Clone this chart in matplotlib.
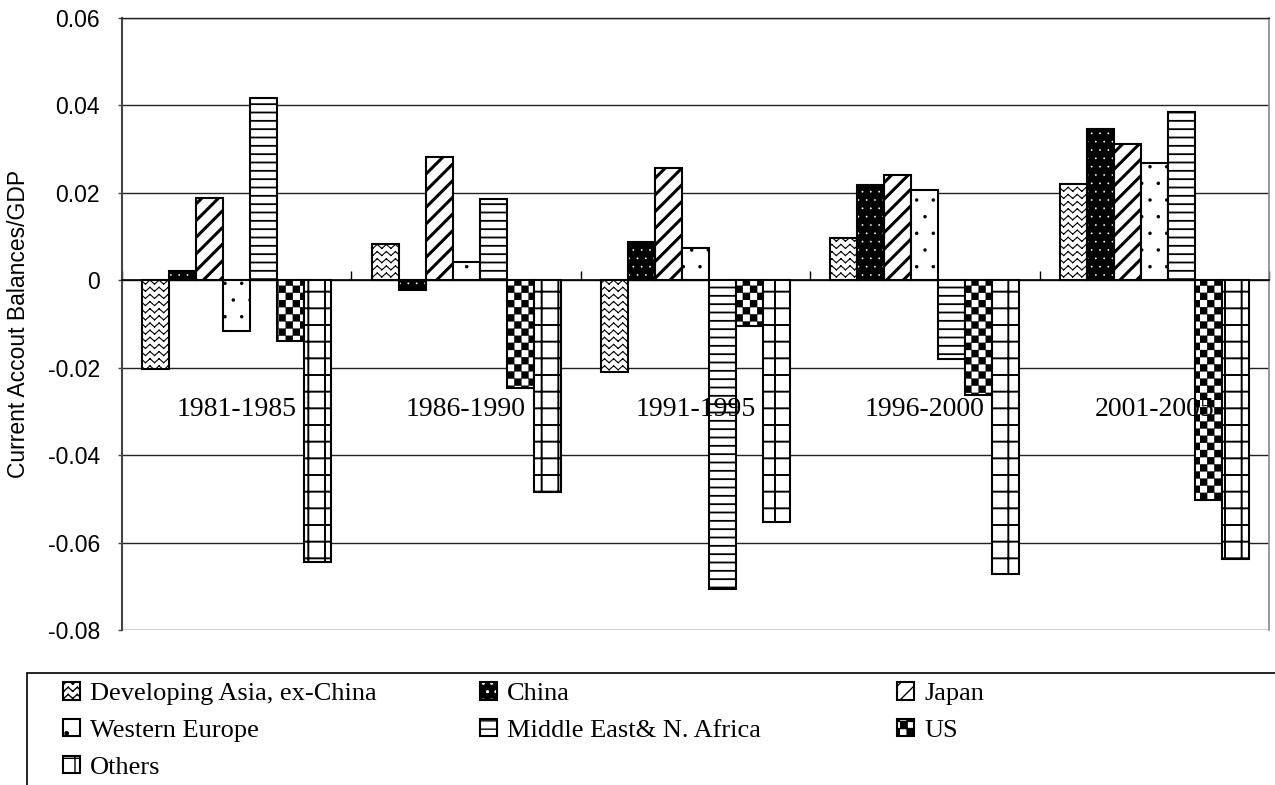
import warnings
warnings.filterwarnings('ignore')
import numpy as np
import matplotlib
matplotlib.use('Agg')
import matplotlib.pyplot as plt
import matplotlib.hatch as mhatch
from matplotlib.path import Path
from matplotlib.patches import Rectangle

# ---------------- data ----------------
periods = ['1981-1985', '1986-1990', '1991-1995', '1996-2000', '2001-2005']
series_names = ['Developing Asia, ex-China', 'China', 'Japan', 'Western Europe',
                'Middle East& N. Africa', 'US', 'Others']
dev_asia = [-0.0204, 0.0082, -0.0209, 0.0096, 0.0220]
china = [0.0022, -0.0023, 0.0088, 0.0218, 0.0346]
japan = [0.0189, 0.0281, 0.0256, 0.0240, 0.0312]
w_europe = [-0.0115, 0.0042, 0.0075, 0.0206, 0.0269]
me_na = [0.0417, 0.0186, -0.0707, -0.0179, 0.0384]
us = [-0.0139, -0.0246, -0.0105, -0.0263, -0.0503]
others = [-0.0644, -0.0485, -0.0552, -0.0672, -0.0637]
y_ticks = [-0.08, -0.06, -0.04, -0.02, 0, 0.02, 0.04, 0.06]
y_tick_labels = ['-0.08', '-0.06', '-0.04', '-0.02', '0', '0.02', '0.04', '0.06']
y_label = 'Current Accout Balances/GDP'

series_values = [dev_asia, china, japan, w_europe, me_na, us, others]


# ---------------- custom hatches ----------------
class ZigzagHatch(mhatch.HatchPatternBase):
    def __init__(self, hatch, density):
        n = hatch.count('z')
        self.rows = 14 * n
        self.cols = 11 * n
        self.num_vertices = self.rows * self.cols * 4

    def set_vertices_and_codes(self, vertices, codes):
        ys = (np.arange(self.rows) + 0.5) / self.rows
        amp = 0.28 / self.rows
        p = 1.0 / self.cols
        xs = np.arange(self.cols) * p
        Y, X = np.meshgrid(ys, xs, indexing='ij')
        X = X.ravel()
        Y = Y.ravel()
        v = vertices.reshape(-1, 4, 2)
        v[:, 0, 0] = X
        v[:, 0, 1] = Y - amp
        v[:, 1, 0] = X + p / 2
        v[:, 1, 1] = Y + amp
        v[:, 2, 0] = X + p / 2
        v[:, 2, 1] = Y + amp
        v[:, 3, 0] = X + p
        v[:, 3, 1] = Y - amp
        c = codes.reshape(-1, 4)
        c[:, 0] = Path.MOVETO
        c[:, 1] = Path.LINETO
        c[:, 2] = Path.MOVETO
        c[:, 3] = Path.LINETO


class CheckerHatch(mhatch.HatchPatternBase):
    def __init__(self, hatch, density):
        n = hatch.count('c')
        self.cells = 14 * n
        self.num_vertices = (self.cells * self.cells // 2) * 5

    def set_vertices_and_codes(self, vertices, codes):
        s = 1.0 / self.cells
        ii, jj = np.meshgrid(np.arange(self.cells), np.arange(self.cells), indexing='ij')
        mask = (ii + jj) % 2 == 0
        x0 = jj[mask] * s
        y0 = ii[mask] * s
        v = vertices.reshape(-1, 5, 2)
        v[:, 0, 0], v[:, 0, 1] = x0, y0
        v[:, 1, 0], v[:, 1, 1] = x0 + s, y0
        v[:, 2, 0], v[:, 2, 1] = x0 + s, y0 + s
        v[:, 3, 0], v[:, 3, 1] = x0, y0 + s
        v[:, 4, 0], v[:, 4, 1] = x0, y0
        c = codes.reshape(-1, 5)
        c[:, 0] = Path.MOVETO
        c[:, 1:4] = Path.LINETO
        c[:, 4] = Path.CLOSEPOLY


mhatch._hatch_types.extend([ZigzagHatch, CheckerHatch])

# ---------------- styles ----------------
plt.rcParams['font.family'] = ['Liberation Sans', 'DejaVu Sans']
serif = ['Liberation Serif', 'DejaVu Serif']

styles = [
    dict(facecolor='white', edgecolor='black', hatch='z', hlw=0.8),
    dict(facecolor='black', edgecolor='white', hatch='..', hlw=0.1),
    dict(facecolor='white', edgecolor='black', hatch='//', hlw=2.2),
    dict(facecolor='white', edgecolor='black', hatch='.', hlw=0.1),
    dict(facecolor='white', edgecolor='black', hatch='--', hlw=1.3),
    dict(facecolor='white', edgecolor='black', hatch='c', hlw=0.2),
    dict(facecolor='white', edgecolor='black', hatch='+', hlw=1.4),
]

fig = plt.figure(figsize=(12.75, 7.85), dpi=100)
W, H = 1275.0, 785.0
ax = fig.add_axes([122 / W, 1 - 630 / H, (1269 - 122) / W, (630 - 18) / H])

x = np.arange(len(periods))
n = len(series_values)
bw = 1.0 / (n + 1.5)
offsets = (np.arange(n) - (n - 1) / 2) * bw

handles = []
for i, (vals, st) in enumerate(zip(series_values, styles)):
    with plt.rc_context({'hatch.linewidth': st['hlw']}):
        if st['edgecolor'] == 'white':
            b1 = ax.bar(x + offsets[i], vals, bw, facecolor=st['facecolor'],
                        edgecolor='white', hatch=st['hatch'], linewidth=0, zorder=3)
            b2 = ax.bar(x + offsets[i], vals, bw, fill=False,
                        edgecolor='black', linewidth=1.5, zorder=3.1)
            for p in b1:
                if hasattr(p, 'set_hatch_linewidth'):
                    p.set_hatch_linewidth(st['hlw'])
            handles.append((b1, b2))
        else:
            b = ax.bar(x + offsets[i], vals, bw, facecolor=st['facecolor'],
                       edgecolor=st['edgecolor'], hatch=st['hatch'],
                       linewidth=1.5, zorder=3)
            for p in b:
                if hasattr(p, 'set_hatch_linewidth'):
                    p.set_hatch_linewidth(st['hlw'])
            handles.append(b)

# category labels inside plot
for xi, lab in zip(x, periods):
    ax.text(xi, -0.0295, lab, ha='center', va='center', fontsize=20,
            family=serif, zorder=5)

ax.set_xlim(-0.5, len(periods) - 0.5)
ax.set_ylim(-0.08, 0.06)
ax.set_yticks(y_ticks)
ax.set_yticklabels(y_tick_labels)
ax.set_xticks(np.arange(len(periods) + 1) - 0.5)
ax.set_xticklabels([])
ax.xaxis.set_ticks_position('bottom')
ax.spines['bottom'].set_position(('data', 0))
ax.spines['bottom'].set_color('black')
ax.spines['bottom'].set_linewidth(1.2)
ax.spines['bottom'].set_zorder(4)
ax.spines['left'].set_color('#444444')
ax.spines['left'].set_linewidth(1.5)
ax.spines['right'].set_color('#888888')
ax.spines['right'].set_linewidth(1.2)
ax.spines['top'].set_color('#222222')
ax.spines['top'].set_linewidth(1.0)
ax.tick_params(axis='x', direction='in', length=6.5, width=1.0, color='black')
ax.tick_params(axis='y', direction='out', length=3, width=1.0, pad=13,
               labelsize=16.5, color='#444444')
ax.yaxis.grid(True, color='#222222', linewidth=1.0)
ax.set_axisbelow(True)
ax.set_ylabel(y_label, fontsize=16.5)
ax.yaxis.set_label_coords(-0.080, 0.5)

# legend frame (extends past the figure edges as in the original)
fig.add_artist(Rectangle((27 / W, -0.5), 2.0, 0.5 + (H - 673) / H,
                         transform=fig.transFigure, fill=False,
                         edgecolor='black', linewidth=1.2, clip_on=False))

leg_cols = [[0, 3, 6], [1, 4], [2, 5]]
col_x = [63, 480, 897]
for cols, xpx in zip(leg_cols, col_x):
    leg = fig.legend([handles[i] for i in cols], [series_names[i] for i in cols],
                     loc='upper left', bbox_to_anchor=(xpx / W, 1 - 682 / H),
                     frameon=False, borderpad=0, borderaxespad=0,
                     handlelength=0.65, handleheight=0.65, handletextpad=0.38,
                     labelspacing=0.52, prop={'family': serif, 'size': 19})

fig.savefig('out.png', dpi=100)
